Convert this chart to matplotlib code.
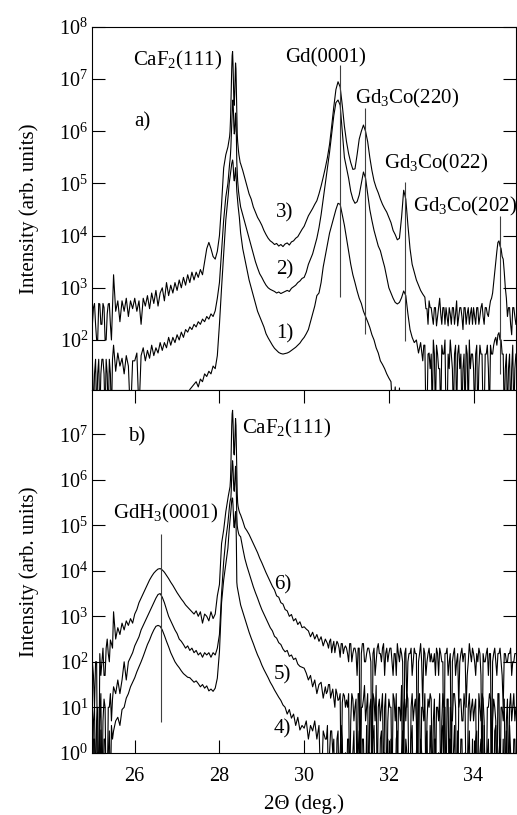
import matplotlib
matplotlib.use("Agg")
import matplotlib.pyplot as plt
import numpy as np
from matplotlib.ticker import NullLocator

plt.rcParams['font.family'] = ['Liberation Serif', 'DejaVu Serif']
plt.rcParams['mathtext.fontset'] = 'custom'
plt.rcParams['mathtext.rm'] = 'Liberation Serif'
plt.rcParams['mathtext.it'] = 'Liberation Serif:italic'

# 2theta grid: 0.05 deg steps, 0.01 deg steps across the CaF2(111) peak
tth = np.concatenate([np.linspace(25.0, 28.15, 64),
                      np.linspace(28.20, 28.49, 30),
                      np.linspace(28.50, 35.0, 131)])
# extra in-between points where the counts are noisy
mid_a_head = np.linspace(25.025, 25.475, 10)
mid_a_tail = np.linspace(32.825, 34.975, 44)
mid_b_head = np.linspace(25.025, 25.475, 10)
mid_b_tail = np.linspace(30.525, 34.975, 90)

# log10 of intensity, panel a), one row per degree (fine rows split out)
scan1 = [
    0.0, 0.0, 0.0, 0.0, 0.0, 0.0, 0.0, 0.0, 0.0, 0.0, 0.0, 0.0, 0.0, 0.0, 0.0, 0.0, 0.0, 0.0, 0.0, 0.0,
    0.0, 0.0, 0.0, 0.0, 0.0, 0.0, 0.0, 0.0, 0.0, 0.0, 0.0, 0.0, 0.0, 0.0, 0.0, 0.0, 0.0, 0.0, 0.0, 0.0,
    0.0, 0.0, 0.0, 0.0, 0.0, 0.9, 1.05, 1.1, 1.15, 1.2, 1.1, 1.25, 1.2, 1.35, 1.3, 1.4, 1.35, 1.5, 1.45, 1.7,
    2.3, 3.0, 3.65, 4.3,
    4.7, 4.8, 4.9, 5.0, 5.06, 5.12, 5.18, 5.25, 5.32, 5.38, 5.42, 5.45, 5.4, 5.25, 5.1,
    5.05, 5.1, 5.2, 5.3, 5.2, 5.0, 4.85, 4.75, 4.65, 4.57, 4.5, 4.42, 4.35, 4.25, 4.15,
    4.05, 3.75, 3.55, 3.35, 3.15, 3.0, 2.85, 2.7, 2.55, 2.45,
    2.35, 2.25, 2.12, 2.04, 1.97, 1.9, 1.84, 1.8, 1.76, 1.74, 1.73, 1.74, 1.75, 1.77, 1.8, 1.83, 1.86, 1.9, 1.94, 2.0,
    2.05, 2.12, 2.2, 2.35, 2.5, 2.65, 2.85, 2.9, 3.1, 3.4, 3.62, 3.85, 4.05, 4.2, 4.35, 4.5, 4.62, 4.6, 4.4, 4.2,
    3.95, 3.7, 3.45, 3.25, 3.1, 2.94, 2.8, 2.7, 2.55, 2.45, 2.35, 2.24, 2.1, 2.0, 1.85, 1.75, 1.6, 1.53, 1.45, 1.35,
    1.27, 1.2, 0.5, 1.1, 0.0, 1.08, 0.0, 0.0, 0.0, 0.0, 0.0, 0.0, 0.0, 0.0, 0.0, 0.0, 0.0, 0.0, 0.0, 0.0,
    0.0, 0.0, 0.0, 0.0, 0.0, 0.0, 0.0, 0.0, 0.0, 0.0, 0.0, 0.0, 0.0, 0.0, 0.0, 0.0, 0.0, 0.0, 0.0, 0.0,
    0.0, 0.0, 0.0, 0.0, 0.0, 0.0, 0.0, 0.0, 0.0, 0.0, 0.0, 0.0, 0.0, 0.0, 0.0, 0.0, 0.0, 0.0, 0.0, 0.0,
    0.0,
]
scan2 = [
    1.63, 1.35, 0.5, 1.63, 1.35, 1.63, 0.5, 1.35, 1.63, 0.5, 1.9, 1.4, 1.75, 1.5, 1.65, 1.35, 1.7, 1.5, 0.5, 1.6,
    1.6, 1.75, 0.6, 1.7, 1.85, 1.6, 1.8, 1.65, 1.9, 1.7, 1.85, 1.75, 1.95, 1.8, 1.95, 1.85, 2.05, 1.9, 2.05, 1.95,
    2.1, 2.0, 2.15, 2.05, 2.2, 2.15, 2.25, 2.2, 2.3, 2.25, 2.35, 2.3, 2.4, 2.35, 2.45, 2.4, 2.5, 2.45, 2.56, 2.8,
    3.1, 3.7, 4.3, 4.74,
    5.0, 5.1, 5.2, 5.3, 5.38, 5.45, 5.55, 5.7, 5.9, 6.1, 6.35, 6.55, 6.6, 6.4, 6.1,
    5.95, 6.0, 6.2, 6.35, 6.25, 5.9, 5.4, 5.2, 5.05, 4.95, 4.85, 4.78, 4.72, 4.66, 4.6,
    4.55, 4.4, 4.25, 4.1, 3.95, 3.8, 3.65, 3.5, 3.38, 3.27,
    3.2, 3.12, 3.05, 3.0, 2.97, 2.95, 2.93, 2.9, 2.92, 2.89, 2.91, 2.93, 2.95, 2.93, 2.99, 3.02, 3.05, 3.1, 3.13, 3.18,
    3.2, 3.3, 3.45, 3.55, 3.65, 3.8, 3.95, 4.15, 4.4, 4.7, 5.0, 5.3, 5.6, 5.95, 6.3, 6.55, 6.6, 6.5, 6.0, 5.5,
    5.3, 5.1, 4.85, 4.7, 4.62, 4.65, 4.78, 5.0, 5.22, 5.1, 4.8, 4.5, 4.29, 4.1, 3.95, 3.8, 3.71, 3.55, 3.4, 3.2,
    3.0, 2.9, 2.8, 2.72, 2.69, 2.72, 2.81, 2.94, 2.85, 2.5, 2.2, 2.05, 1.95, 2.0, 1.75, 1.95, 1.6, 1.9, 0.5, 1.75,
    1.73, 2.0, 0.5, 1.73, 1.45, 1.9, 1.73, 0.5, 1.73, 2.0, 1.45, 1.73, 0.5, 1.9, 1.73, 1.45, 0.5, 1.73, 2.0, 1.73,
    1.45, 1.73, 0.5, 1.9, 1.73, 0.5, 1.73, 1.45, 1.9, 1.73, 2.0, 1.9, 2.14, 2.0, 1.73, 1.45, 0.5, 1.73, 1.45, 0.5,
    1.73,
]
scan2_head = [0.5, 1.63, 1.35, 0.5, 1.63, 1.35, 1.63, 0.5, 1.35, 1.63]
scan2_tail = [
    1.9, 0.5, 1.73, 1.45,
    0.5, 1.73, 1.9, 1.45, 0.5, 1.73, 2.0, 0.5, 1.45, 1.73, 0.5, 1.9, 1.73, 1.45, 0.5, 1.73, 1.9, 0.5, 1.45, 1.73,
    0.5, 1.9, 1.45, 1.73, 0.5, 1.73, 1.9, 0.5, 1.73, 1.9, 2.05, 2.1, 2.0, 1.73, 0.5, 1.73, 1.45, 0.5, 1.9, 1.45,
]
scan3 = [
    2.3, 2.7, 2.0, 2.7, 2.3, 2.7, 2.0, 2.5, 2.7, 2.0, 3.25, 2.55, 2.75, 2.35, 2.75, 2.55, 2.8, 2.45, 2.75, 2.6,
    2.8, 2.55, 2.75, 2.3, 2.8, 2.65, 2.85, 2.6, 2.9, 2.7, 2.95, 2.65, 2.9, 3.0, 2.75, 3.1, 2.85, 3.05, 2.9, 3.1,
    2.95, 3.15, 3.0, 3.2, 3.05, 3.25, 3.1, 3.3, 3.15, 3.3, 3.2, 3.35, 3.25, 3.5, 3.75, 3.87, 3.75, 3.6, 3.55, 3.7,
    4.0, 4.6, 5.3, 5.55,
    5.7, 5.75, 5.8, 5.85, 5.9, 6.0, 6.2, 6.5, 6.9, 7.2, 7.45, 7.53, 7.3, 6.9, 6.6,
    6.5, 6.7, 7.0, 7.31, 7.2, 6.8, 6.3, 5.95, 5.8, 5.7, 5.62, 5.55, 5.5, 5.45, 5.4,
    5.38, 5.25, 5.1, 4.95, 4.8, 4.7, 4.55, 4.45, 4.35, 4.28,
    4.2, 4.1, 4.02, 3.95, 3.9, 3.87, 3.83, 3.85, 3.8, 3.83, 3.79, 3.84, 3.86, 3.82, 3.88, 3.9, 3.95, 3.98, 4.05, 4.12,
    4.18, 4.28, 4.38, 4.45, 4.52, 4.6, 4.67, 4.8, 4.95, 5.12, 5.3, 5.5, 5.75, 6.1, 6.47, 6.8, 6.95, 6.85, 6.5, 6.1,
    5.8, 5.57, 5.4, 5.27, 5.28, 5.55, 5.85, 6.0, 6.12, 6.0, 5.8, 5.5, 5.25, 5.05, 4.92, 4.82, 4.7, 4.6, 4.52, 4.45,
    4.35, 4.25, 4.1, 4.02, 3.92, 3.95, 4.35, 4.87, 4.7, 4.2, 3.75, 3.45, 3.3, 3.15, 3.05, 2.95, 2.88, 2.82, 2.6, 2.75,
    2.62, 2.3, 2.62, 2.45, 2.8, 2.3, 2.62, 2.62, 2.27, 2.5, 2.62, 2.3, 2.75, 2.45, 2.62, 2.2, 2.62, 2.5, 2.3, 2.62,
    2.62, 2.3, 2.62, 2.45, 2.7, 2.3, 2.62, 2.45, 2.75, 2.9, 3.3, 3.7, 3.9, 3.75, 3.55, 3.0, 2.45, 2.62, 2.1, 2.62,
    2.3,
]
scan3_head = [2.62, 2.3, 2.0, 2.69, 2.3, 2.62, 2.0, 2.69, 2.3, 2.62]
scan3_tail = [
    2.85, 2.6, 2.3, 2.62,
    2.45, 2.62, 2.27, 2.62, 2.5, 2.62, 2.3, 2.45, 2.62, 2.3, 2.62, 2.5, 2.27, 2.62, 2.45, 2.62, 2.3, 2.62, 2.5, 2.3,
    2.45, 2.62, 2.3, 2.62, 2.45, 2.62, 2.5, 2.62, 2.8, 3.1, 3.5, 3.87, 3.8, 3.6, 3.3, 2.8, 2.62, 2.3, 2.62, 2.45,
]

# log10 of intensity, panel b)
scan4 = [
    -1, 0.3, -1, -1, 0.5, -1, 0.3, -1, 0.48, 0.6, 0.48, 0.7, 0.78, 0.6, 0.95, 1.0, 1.2, 1.3, 1.45, 1.55,
    1.65, 1.78, 1.89, 2.0, 2.12, 2.25, 2.38, 2.48, 2.6, 2.7, 2.78, 2.8, 2.78, 2.7, 2.58, 2.45, 2.33, 2.2, 2.1, 2.0,
    1.93, 1.87, 1.8, 1.74, 1.7, 1.66, 1.65, 1.6, 1.55, 1.58, 1.52, 1.45, 1.5, 1.42, 1.47, 1.36, 1.4, 1.35, 1.42, 1.64,
    2.22, 3.3, 3.8, 4.15,
    4.5, 4.64, 4.78, 4.9, 5.0, 5.1, 5.2, 5.32, 5.45, 5.55, 5.6, 5.6, 5.45, 5.2, 5.0,
    4.95, 5.05, 5.2, 5.3, 5.15, 4.6, 3.75, 3.65, 3.6, 3.55, 3.5, 3.45, 3.4, 3.35, 3.3,
    3.25, 3.1, 2.95, 2.8, 2.65, 2.52, 2.4, 2.27, 2.15, 2.05,
    1.93, 1.83, 1.74, 1.65, 1.55, 1.47, 1.38, 1.3, 1.22, 1.15, 1.05, 1.0, 0.85, 0.95, 0.76, 0.85, 0.6, 0.78, 0.5, 0.6,
    0.54, 0.7, 0.3, 0.6, 0.48, 0.7, 0.3, 0.6, -1, 0.48, 0.3, 0.6, 0.0, 0.48, 0.3, -1, 0.48, 0.0, 0.3, -1,
    -1, 0.3, -1, 0.0, -1, -1, 0.48, -1, 0.3, -1, -1, 0.0, -1, 0.6, -1, -1, 0.3, -1, 0.0, -1,
    -1, 0.3, -1, -1, 0.48, -1, 0.0, -1, 0.3, -1, -1, 0.6, -1, 0.0, -1, 0.3, -1, -1, 0.48, -1,
    0.0, -1, 0.3, -1, -1, 0.48, -1, 0.0, -1, 0.3, -1, 0.6, -1, -1, 0.3, -1, 0.0, -1, 0.48, -1,
    -1, 0.3, -1, 0.0, -1, 0.6, -1, 0.3, -1, -1, 0.48, -1, 0.0, -1, 0.3, -1, -1, 0.6, -1, 0.3,
    -1,
]
scan4_head = [0.3, -1, 0.0, -1, -1, 0.3, -1, 0.0, -1, 0.3]
scan4_tail = [
    0.3, -1, 0.48, 0.0, -1, 0.3, -1, 0.6, -1, 0.0,
    0.3, -1, -1, 0.48, -1, 0.0, -1, 0.3, -1, 0.6, -1, -1, 0.3, -1, 0.0, -1, 0.48, -1, -1, 0.3,
    -1, 0.0, -1, 0.3, -1, -1, 0.48, -1, 0.0, -1, 0.3, -1, -1, 0.48, -1, 0.0, -1, 0.3, -1, 0.6,
    -1, 0.3, -1, 0.0, -1, 0.6, -1, -1, 0.3, -1, 0.0, -1, 0.48, -1, 0.3, -1, -1, 0.0, -1, 0.3,
    -1, 0.48, -1, 0.3, -1, -1, 0.0, -1, 0.3, -1, 0.6, -1, 0.3, -1, -1, 0.48, -1, 0.0, -1, 0.3,
]
scan5 = [
    -1, 1.0, 0.7, -1, 1.3, 0.7, 1.0, -1, 1.0, 0.7, 1.45, 1.3, 1.6, 1.3, 1.6, 2.0, 1.6, 2.0, 2.1, 2.2,
    2.35, 2.45, 2.55, 2.7, 2.8, 2.9, 3.0, 3.1, 3.2, 3.3, 3.4, 3.48, 3.5, 3.42, 3.3, 3.15, 3.0, 2.9, 2.8, 2.7,
    2.62, 2.5, 2.45, 2.38, 2.3, 2.35, 2.25, 2.3, 2.2, 2.25, 2.15, 2.2, 2.1, 2.2, 2.15, 2.2, 2.1, 2.2, 2.15, 2.3,
    2.6, 3.5, 4.2, 4.7,
    5.05, 5.15, 5.25, 5.35, 5.45, 5.52, 5.57, 5.6, 5.8, 6.1, 6.3, 6.42, 6.3, 6.0, 5.8,
    5.75, 5.9, 6.1, 6.3, 6.15, 5.7, 5.2, 5.0, 4.92, 4.87, 4.83, 4.8, 4.78, 4.77, 4.76,
    4.75, 4.5, 4.27, 4.1, 3.95, 3.8, 3.65, 3.52, 3.4, 3.27,
    3.15, 3.05, 2.95, 2.85, 2.75, 2.68, 2.56, 2.52, 2.42, 2.38, 2.28, 2.22, 2.25, 2.12, 2.15, 2.05, 2.08, 1.95, 1.9, 1.88,
    1.86, 1.75, 1.6, 1.7, 1.45, 1.6, 1.3, 1.5, 1.55, 1.2, 1.45, 1.35, 1.5, 1.31, 1.2, 1.4, 1.15, 1.3, 1.1, 1.25,
    1.16, 1.3, 0.7, 1.18, 1.0, -1, 1.3, 1.0, 1.18, 0.7, 1.3, 1.0, -1, 1.18, 1.48, 1.0, 0.7, 1.3, 1.0, -1,
    1.18, 1.0, 1.3, 0.7, -1, 1.0, 1.48, 1.0, 0.7, 1.18, -1, 1.3, 1.0, 0.7, 1.18, -1, 1.0, 1.3, 0.7, 1.0,
    1.18, 0.7, -1, 1.0, 1.3, 0.7, 1.0, -1, 1.18, 1.0, 0.7, 1.3, -1, 1.0, 1.18, 0.7, 1.0, -1, 1.3, 1.0,
    0.7, 1.18, -1, 1.0, 1.3, 0.7, -1, 1.0, 1.18, 0.7, 1.0, -1, 1.3, 1.0, 0.7, -1, 1.18, 1.0, 0.7, 1.3,
    1.0,
]
scan5_head = [0.7, -1, 1.0, 0.7, -1, 1.18, -1, 1.0, 1.3, 1.18]
scan5_tail = [
    1.3, 1.5, 1.2, 1.4, 1.0, 1.3, 1.18, -1, 1.3, 1.0,
    1.0, -1, 1.3, 0.7, 1.18, 1.3, -1, 1.0, 1.48, 1.0, -1, 1.18, 1.3, 0.7, -1, 1.18, 1.0, -1, 1.3, 0.7,
    1.0, -1, 1.18, 1.3, 1.0, 0.7, -1, 1.18, 1.3, -1, 1.0, 0.7, 1.18, -1, 1.3, 1.0, 0.7, -1, 1.18, 1.3,
    -1, 1.18, 1.0, 0.7, -1, 1.3, 1.0, 1.18, -1, 0.7, 1.3, 1.0, -1, 1.18, 0.7, 1.3, -1, 1.0, 0.7, 1.18,
    1.0, -1, 1.3, 0.7, 1.18, -1, 1.0, 1.3, -1, 1.18, 0.7, 1.3, -1, 1.0, 1.18, 0.7, -1, 1.3, 1.0, 0.7,
]
scan6 = [
    2.0, 1.0, 2.0, -1, 1.7, 2.3, 1.7, 2.5, 2.0, 2.4, 3.1, 2.5, 2.75, 2.6, 2.85, 2.7, 2.9, 2.8, 2.95, 2.85,
    3.05, 3.15, 3.3, 3.4, 3.5, 3.6, 3.7, 3.8, 3.88, 3.95, 4.0, 4.04, 4.05, 4.02, 3.97, 3.9, 3.83, 3.75, 3.68, 3.6,
    3.52, 3.45, 3.38, 3.32, 3.25, 3.2, 3.15, 3.1, 3.05, 3.12, 3.0, 3.1, 2.85, 3.05, 3.0, 2.9, 3.1, 2.95, 3.05, 3.45,
    3.7, 4.6, 4.9, 5.3,
    5.6, 5.65, 5.7, 5.75, 5.8, 5.85, 6.0, 6.3, 6.8, 7.2, 7.45, 7.53, 7.3, 6.9, 6.6,
    6.55, 6.75, 7.05, 7.35, 7.2, 6.7, 6.1, 5.7, 5.5, 5.42, 5.37, 5.33, 5.3, 5.27, 5.25,
    5.23, 5.1, 4.95, 4.88, 4.8, 4.7, 4.6, 4.5, 4.4, 4.28,
    4.18, 4.07, 3.96, 3.86, 3.76, 3.66, 3.58, 3.45, 3.42, 3.3, 3.27, 3.15, 3.12, 3.0, 3.04, 2.9, 2.95, 2.82, 2.88, 2.75,
    2.77, 2.72, 2.68, 2.55, 2.65, 2.5, 2.6, 2.45, 2.55, 2.35, 2.5, 2.4, 2.45, 2.2, 2.45, 2.35, 2.4, 2.1, 2.4, 2.3,
    2.3, 2.0, 2.4, 2.18, 2.3, 1.7, 2.3, 2.18, 2.4, 2.0, 2.3, 2.18, -1, 2.3, 2.0, 2.4, 2.18, 2.3, 1.7, 2.3,
    2.18, 2.3, 1.7, 2.18, 2.4, 2.0, 2.18, -1, 2.3, 2.0, 2.18, 1.7, 2.3, 2.18, 2.0, 2.4, 1.0, 2.18, 2.0, 2.3,
    2.18, 2.0, 1.7, 2.18, 2.3, 2.0, -1, 2.18, 1.7, 2.18, 2.0, 2.3, 2.0, 1.0, 2.18, 2.0, 2.18, 1.7, 2.4, 2.0,
    2.18, 1.7, 2.0, 2.18, -1, 2.0, 2.18, 1.7, 2.18, 2.0, 2.3, 1.7, 2.18, 2.0, 1.0, 2.18, 2.0, 2.18, 1.7, 2.0,
    2.18,
]
scan6_head = [1.7, 2.0, -1, 2.18, 2.0, 1.7, 2.3, 2.18, 2.48, 2.3]
scan6_tail = [
    2.45, 2.3, 2.5, 2.35, 2.2, 2.45, 2.3, 2.4, 2.18, 2.35,
    2.18, 2.4, 2.0, 2.3, 2.18, 2.3, -1, 2.4, 2.0, 2.18, 2.3, 2.0, 2.18, 1.7, 2.3, 2.18, 2.0, 2.4, 2.18, 2.0,
    2.3, 2.0, 2.18, 1.7, 2.18, 2.3, 2.0, 2.18, 1.0, 2.18, 2.3, 2.0, 2.18, -1, 2.18, 2.0, 2.3, 1.7, 2.18, 2.0,
    2.0, 2.18, 2.3, 1.7, 2.18, 2.0, 2.18, 2.3, 2.0, -1, 2.18, 1.7, 2.18, 2.0, 2.3, 2.18, 1.0, 2.0, 2.18, 2.3,
    2.0, 2.18, 2.3, 1.7, 2.18, 2.0, 2.3, 2.18, -1, 2.18, 2.0, 2.18, 2.3, 1.7, 2.18, 2.0, 2.18, 2.3, 2.0, 2.18,
]

# reflection markers: position, log10 of lower and upper end
marks_a_pos = [30.84, 31.44, 32.37, 34.62]
marks_a_lo = [2.83, 2.12, 1.98, 1.35]
marks_a_hi = [7.27, 6.44, 5.02, 4.37]
marks_b_pos = [26.62]
marks_b_lo = [0.68]
marks_b_hi = [4.82]


def merged(grids, values):
    x = np.concatenate(grids)
    y = np.concatenate([np.asarray(v, dtype=float) for v in values])
    assert len(x) == len(y), (len(x), len(y))
    order = np.argsort(x, kind='stable')
    return x[order], 10.0 ** y[order]


panel_a = [
    merged([tth], [scan1]),
    merged([tth, mid_a_head, mid_a_tail], [scan2, scan2_head, scan2_tail]),
    merged([tth, mid_a_head, mid_a_tail], [scan3, scan3_head, scan3_tail]),
]
panel_b = [
    merged([tth, mid_b_head, mid_b_tail], [scan4, scan4_head, scan4_tail]),
    merged([tth, mid_b_head, mid_b_tail], [scan5, scan5_head, scan5_tail]),
    merged([tth, mid_b_head, mid_b_tail], [scan6, scan6_head, scan6_tail]),
]

fig = plt.figure(figsize=(5.17, 8.15), dpi=100)
ax_a = fig.add_axes([0.1787, 0.5215, 0.8192, 0.4454])
ax_b = fig.add_axes([0.1787, 0.0764, 0.8192, 0.4451])

for ax, curves in ((ax_a, panel_a), (ax_b, panel_b)):
    for x, y in curves:
        ax.plot(x, y, color='k', lw=0.8)

ax_a.vlines(marks_a_pos, 10.0 ** np.asarray(marks_a_lo), 10.0 ** np.asarray(marks_a_hi),
            color='0.25', lw=0.8)
ax_b.vlines(marks_b_pos, 10.0 ** np.asarray(marks_b_lo), 10.0 ** np.asarray(marks_b_hi),
            color='0.25', lw=0.8)

for ax in (ax_a, ax_b):
    ax.set_yscale('log')
    ax.set_xlim(25, 35)
    ax.yaxis.set_minor_locator(NullLocator())
    ax.tick_params(axis='y', which='major', direction='in', length=9.5, width=0.8,
                   left=True, right=True, labelsize=14.5, pad=3)
    for sp in ax.spines.values():
        sp.set_linewidth(0.8)
    ax.set_ylabel('Intensity (arb. units)', fontsize=15)
    ax.yaxis.set_label_coords(-0.125, 0.5)

ax_a.set_ylim(11, 1e8)
ax_b.set_ylim(1, 9.5e7)

ax_a.tick_params(axis='x', bottom=False, top=False, labelbottom=False)
ax_b.set_xticks([26, 28, 30, 32, 34])
ax_b.tick_params(axis='x', direction='in', length=9.5, width=0.8, top=True, bottom=True,
                 labelsize=14.5, pad=10)
ax_b.set_xlabel('2\u0398 (deg.)', fontsize=15, labelpad=6)

kw = dict(fontsize=15, ha='left', va='baseline')
ax_a.text(25.97, 10 ** 7.27, 'CaF$_2$(111)', **kw)
ax_a.text(26.0, 10 ** 6.1, 'a)', **kw)
ax_a.text(29.55, 10 ** 7.31, 'Gd(0001)', **kw)
ax_a.text(31.21, 10 ** 6.53, 'Gd$_3$Co(220)', **kw)
ax_a.text(31.88, 10 ** 5.28, 'Gd$_3$Co(022)', **kw)
ax_a.text(32.56, 10 ** 4.47, 'Gd$_3$Co(202)', **kw)
ax_a.text(29.34, 10 ** 4.35, '3)', **kw)
ax_a.text(29.34, 10 ** 3.26, '2)', **kw)
ax_a.text(29.34, 10 ** 2.03, '1)', **kw)

ax_b.text(25.85, 10 ** 6.84, 'b)', **kw)
ax_b.text(28.53, 10 ** 7.02, 'CaF$_2$(111)', **kw)
ax_b.text(25.49, 10 ** 5.15, 'GdH$_3$(0001)', **kw)
ax_b.text(29.28, 10 ** 3.58, '6)', **kw)
ax_b.text(29.28, 10 ** 1.62, '5)', **kw)
ax_b.text(29.28, 10 ** 0.43, '4)', **kw)

fig.savefig('out.png', dpi=100)
